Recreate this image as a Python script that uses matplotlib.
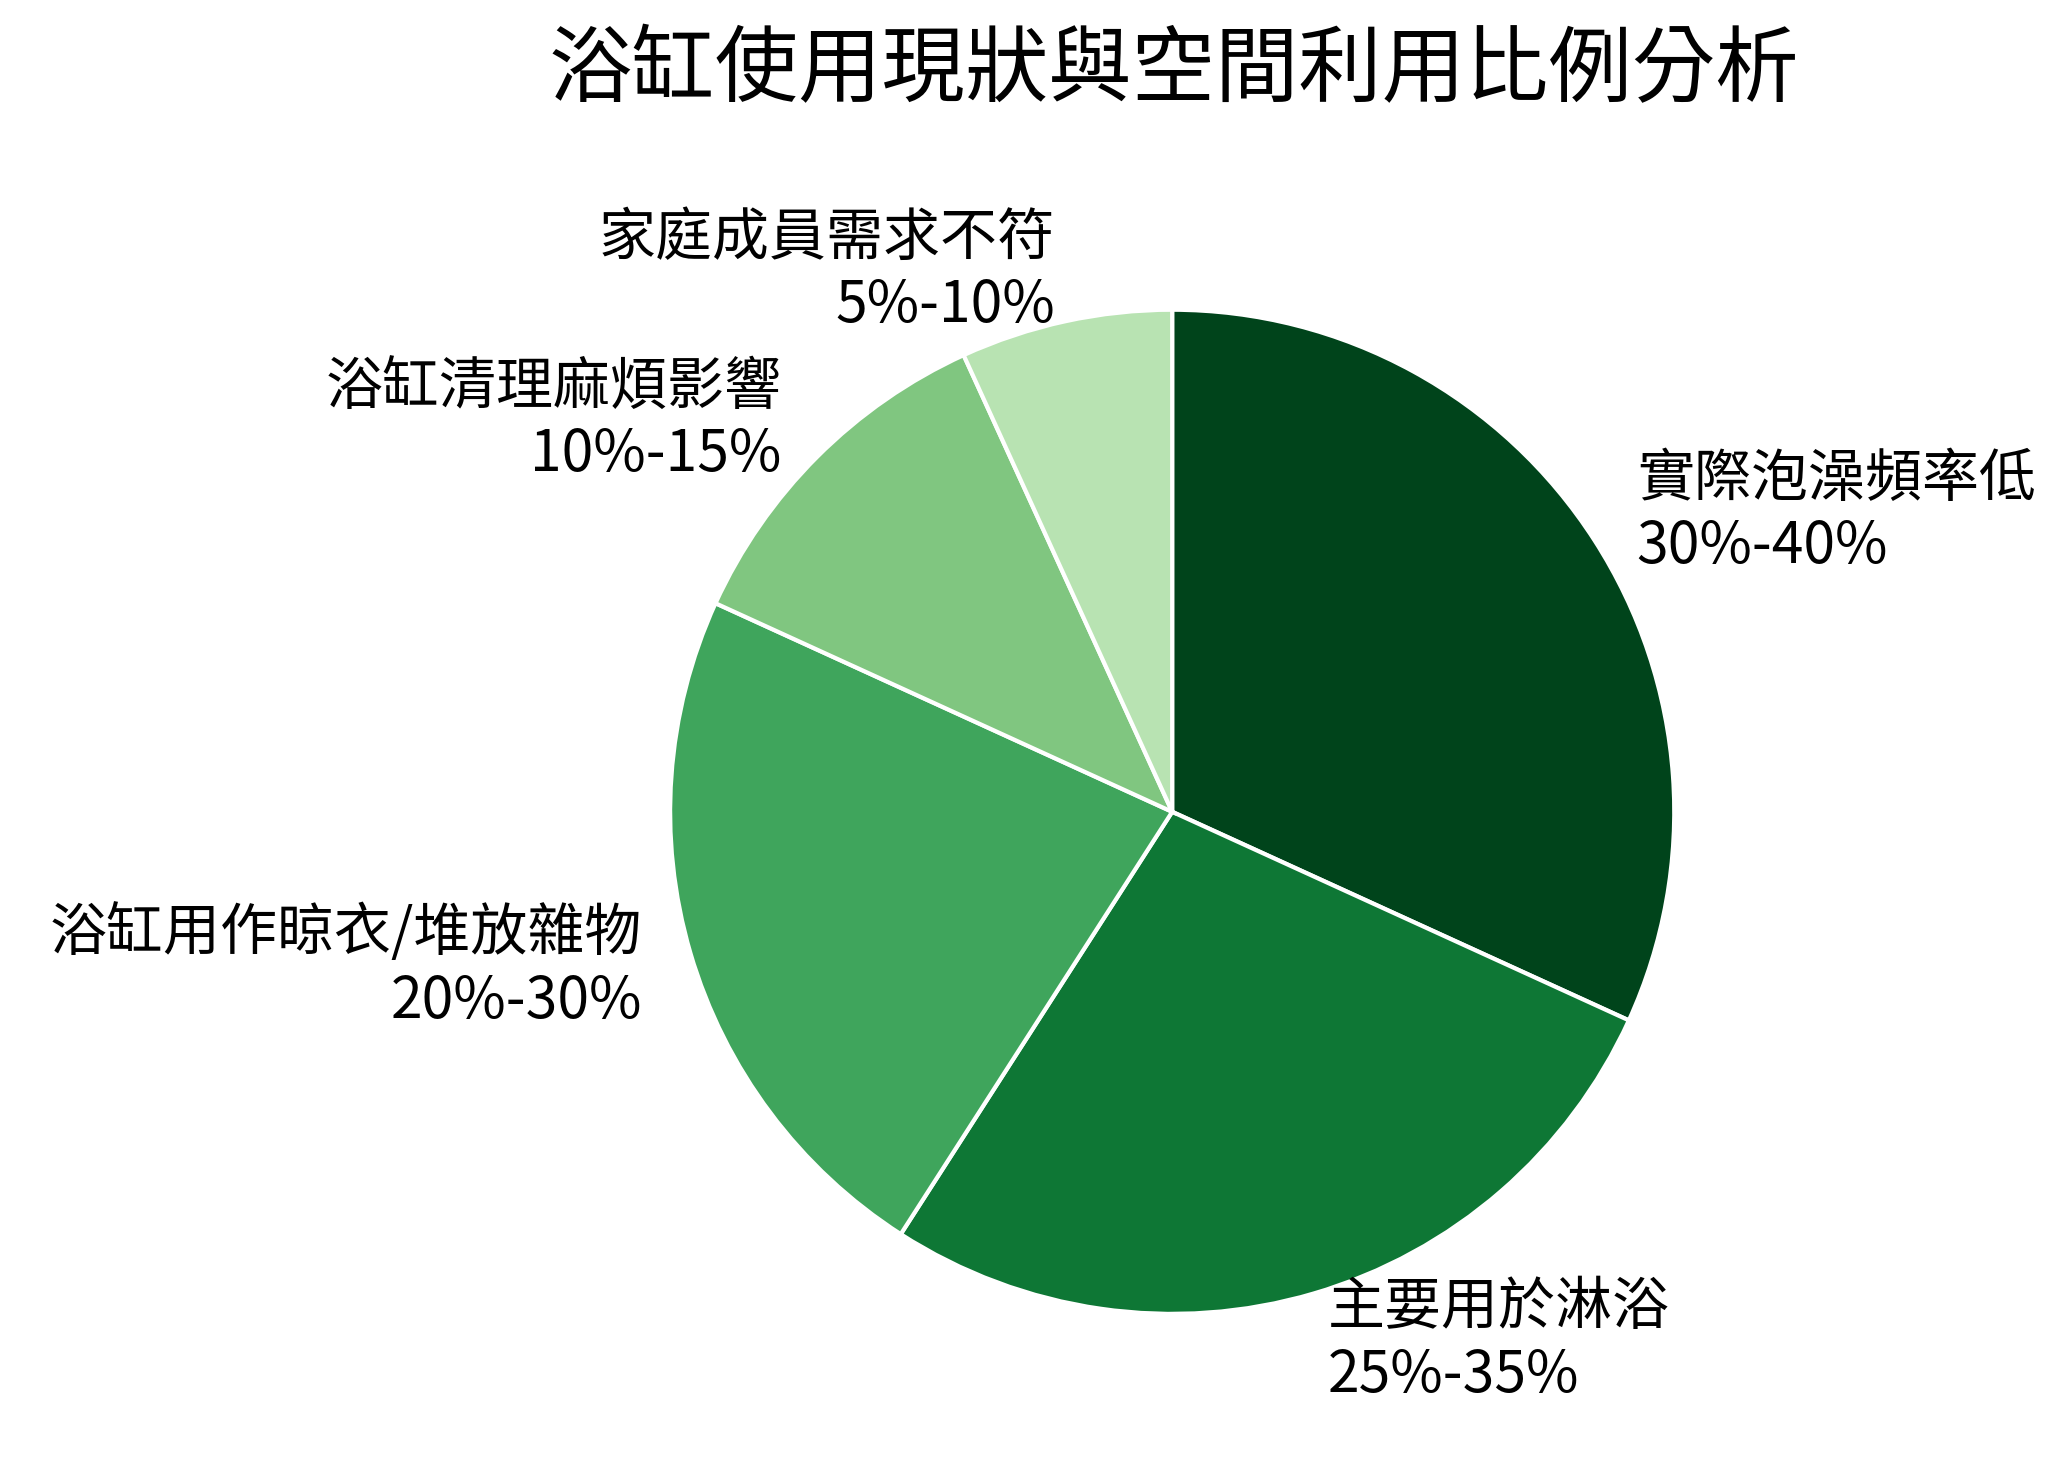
import matplotlib

matplotlib.use("Agg")
import matplotlib.pyplot as plt

plt.rcParams["font.family"] = ["Noto Sans CJK TC", "DejaVu Sans"]

categories = ["實際泡澡頻率低", "主要用於淋浴", "浴缸用作晾衣/堆放雜物", "浴缸清理麻煩影響", "家庭成員需求不符"]
ranges = ["30%-40%", "25%-35%", "20%-30%", "10%-15%", "5%-10%"]
values = [35, 30, 25, 12.5, 7.5]
colors = ["#00441b", "#0e7735", "#3fa55c", "#80c680", "#b8e3b2"]

fig = plt.figure(figsize=(10.355, 7.34), dpi=200)
ax = fig.add_axes([0.3235, 0.105, 0.485, 0.684])
labels = [f"{c}\n{r}" for c, r in zip(categories, ranges)]
ax.pie(
    values,
    labels=labels,
    colors=colors,
    startangle=90,
    counterclock=False,
    labeldistance=1.1,
    wedgeprops={"edgecolor": "white", "linewidth": 1.5},
    textprops={"fontsize": 20.5},
)
ax.set_xlim(-1, 1)
ax.set_ylim(-1, 1)
ax.set_aspect("equal")
fig.text(0.567, 0.952, "浴缸使用現狀與空間利用比例分析", ha="center", va="center", fontsize=30)
fig.savefig("out.png", dpi=200)
